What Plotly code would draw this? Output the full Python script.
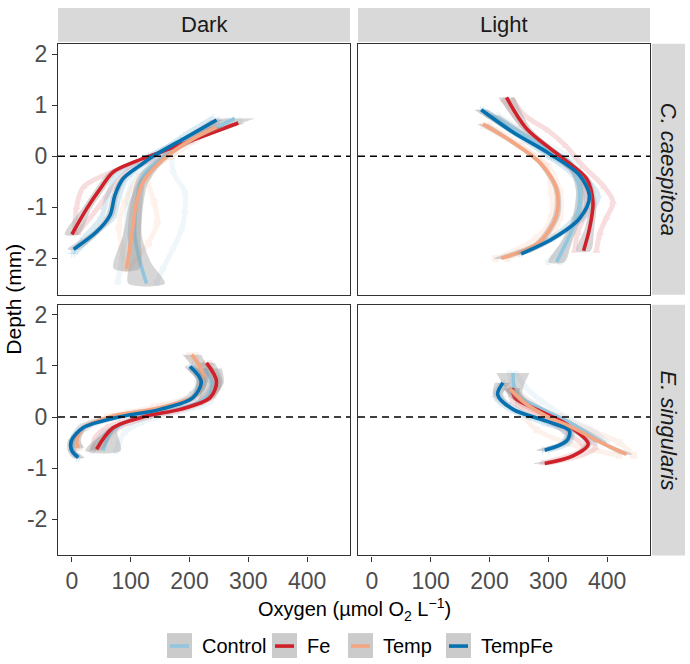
import plotly.graph_objects as go

# ---------------- data ----------------
treatments = ["Control", "Fe", "Temp", "TempFe"]
light_levels = ["Dark", "Light"]
species = ["C. caespitosa", "E. singularis"]
x_ticks = [0, 100, 200, 300, 400]
y_ticks = [-2, -1, 0, 1, 2]
y_tick_text = ["-2", "-1", "0", "1", "2"]

# Smoothed profiles (depth in mm, oxygen in umol/L, CI half-width)
dark_cc_depth = {
    "Control": [0.74, 0.40, 0.08, -0.38, -0.90, -1.55, -2.07, -2.49],
    "Fe": [0.65, 0.27, 0.05, -0.12, -0.31, -0.64, -1.03, -1.53],
    "Temp": [0.57, 0.34, 0.05, -0.18, -0.51, -0.90, -1.54, -2.20],
    "TempFe": [0.71, 0.34, 0.00, -0.18, -0.44, -0.77, -1.15, -1.48, -1.82],
}
dark_cc_oxygen = {
    "Control": [277, 218, 167, 121, 110, 107, 116, 127],
    "Fe": [283, 195, 144, 104, 70, 48, 25, 0],
    "Temp": [246, 206, 167, 144, 121, 110, 102, 93],
    "TempFe": [246, 190, 138, 116, 87, 73, 65, 42, 3],
}
dark_cc_ci = {
    "Control": [34, 12, 8, 8, 10, 12, 18, 31],
    "Fe": [12, 6, 5, 6, 7, 8, 8, 12],
    "Temp": [14, 8, 6, 7, 9, 12, 15, 22],
    "TempFe": [10, 5, 5, 5, 6, 6, 7, 7, 10],
}

light_cc_depth = {
    "Control": [0.80, 0.27, -0.12, -0.64, -1.22, -1.68, -2.07],
    "Fe": [1.15, 0.54, 0.01, -0.44, -0.90, -1.42, -1.85],
    "Temp": [0.63, 0.27, -0.12, -0.64, -1.16, -1.68, -2.00],
    "TempFe": [0.91, 0.47, 0.05, -0.37, -0.80, -1.22, -1.61, -1.91],
}
light_cc_oxygen = {
    "Control": [203, 280, 336, 353, 348, 331, 314],
    "Fe": [229, 263, 319, 365, 376, 370, 360],
    "Temp": [189, 240, 285, 314, 314, 285, 220],
    "TempFe": [186, 240, 302, 353, 370, 353, 308, 254],
}
light_cc_ci = {
    "Control": [14, 7, 6, 6, 7, 9, 14],
    "Fe": [14, 8, 6, 6, 6, 8, 12],
    "Temp": [10, 6, 5, 5, 6, 7, 12],
    "TempFe": [12, 6, 5, 5, 5, 6, 7, 10],
}

dark_es_depth = {
    "Control": [0.95, 0.65, 0.35, 0.12, 0.00, -0.25, -0.66],
    "Fe": [1.06, 0.70, 0.38, 0.15, 0.02, -0.21, -0.63],
    "Temp": [1.22, 0.83, 0.44, 0.18, 0.02, -0.21, -0.47, -0.60],
    "TempFe": [0.99, 0.70, 0.38, 0.15, -0.01, -0.21, -0.47, -0.66, -0.79],
}
dark_es_oxygen = {
    "Control": [225, 238, 225, 170, 115, 70, 53],
    "Fe": [229, 246, 235, 184, 127, 70, 42],
    "Temp": [204, 223, 212, 150, 70, 19, 8, 11],
    "TempFe": [201, 220, 206, 150, 76, 19, -1, 0, 11],
}
dark_es_ci = {
    "Control": [30, 20, 10, 6, 6, 8, 30],
    "Fe": [14, 10, 7, 5, 5, 6, 10],
    "Temp": [16, 10, 7, 5, 5, 6, 7, 9],
    "TempFe": [10, 8, 6, 5, 5, 5, 6, 7, 10],
}

light_es_depth = {
    "Control": [0.86, 0.44, 0.18, -0.14, -0.50],
    "Fe": [0.57, 0.38, 0.12, -0.14, -0.53, -0.76, -0.91],
    "Temp": [0.55, 0.25, 0.00, -0.21, -0.50, -0.73],
    "TempFe": [0.67, 0.44, 0.15, -0.08, -0.27, -0.47, -0.65],
}
light_es_oxygen = {
    "Control": [240, 246, 285, 342, 390],
    "Fe": [239, 243, 285, 331, 368, 342, 294],
    "Temp": [235, 263, 300, 342, 390, 433],
    "TempFe": [223, 214, 240, 297, 336, 331, 294],
}
light_es_ci = {
    "Control": [28, 10, 6, 6, 10],
    "Fe": [14, 8, 6, 5, 6, 8, 18],
    "Temp": [12, 7, 5, 5, 6, 10],
    "TempFe": [14, 8, 6, 5, 6, 7, 14],
}

# Raw replicate profiles (faint points)
dark_cc_raw_depth = {
    "Control": [[0.7, 0.4, 0.1, -0.3, -0.7, -1.1, -1.42, -1.81, -2.2, -2.46],
                [0.7, 0.3, 0.0, -0.4, -0.9, -1.5, -2.0, -2.46]],
    "Fe": [[0.6, 0.3, 0.0, -0.3, -0.6, -1.0, -1.5],
           [0.65, 0.3, 0.0, -0.3, -0.6, -1.0, -1.5]],
    "Temp": [[0.55, 0.3, 0.0, -0.4, -0.9, -1.3, -1.7, -2.2],
             [0.55, 0.3, 0.0, -0.4, -0.9, -1.4, -1.8, -2.2]],
    "TempFe": [[0.75, 0.4, 0.0, -0.4, -0.8, -1.2, -1.5, -1.9],
               [0.7, 0.3, 0.0, -0.4, -0.8, -1.2, -1.6, -1.9]],
}
dark_cc_raw_oxygen = {
    "Control": [[265, 220, 175, 172, 192, 192, 187, 172, 155, 144],
                [285, 205, 150, 105, 95, 92, 85, 78]],
    "Fe": [[250, 200, 135, 70, 20, 8, 5],
           [240, 200, 150, 95, 70, 45, 10]],
    "Temp": [[240, 200, 160, 130, 140, 145, 130, 95],
             [250, 210, 170, 115, 90, 80, 85, 90]],
    "TempFe": [[240, 190, 140, 95, 80, 70, 40, 5],
               [250, 185, 130, 75, 60, 50, 20, 0]],
}

light_cc_raw_depth = {
    "Control": [[0.8, 0.3, -0.1, -0.6, -1.2, -1.7, -2.07],
                [0.8, 0.3, -0.1, -0.6, -1.2, -1.7, -2.07]],
    "Fe": [[1.1, 0.8, 0.5, 0.2, -0.2, -0.6, -0.9, -1.2, -1.5, -1.85],
           [1.1, 0.6, 0.0, -0.5, -1.0, -1.5, -1.85]],
    "Temp": [[0.6, 0.2, -0.2, -0.7, -1.2, -1.6, -2.0],
             [0.6, 0.2, -0.2, -0.7, -1.2, -1.6, -2.0]],
    "TempFe": [[0.9, 0.5, 0.0, -0.4, -0.8, -1.2, -1.6, -1.9],
               [0.9, 0.5, 0.0, -0.4, -0.8, -1.2, -1.6, -1.9]],
}
light_cc_raw_oxygen = {
    "Control": [[205, 275, 330, 350, 345, 325, 300],
                [215, 285, 345, 360, 350, 335, 320]],
    "Fe": [[240, 260, 300, 330, 360, 395, 410, 399, 388, 382],
           [225, 255, 315, 355, 365, 350, 345]],
    "Temp": [[190, 250, 300, 320, 320, 300, 230],
             [200, 255, 295, 305, 305, 280, 210]],
    "TempFe": [[190, 245, 305, 360, 385, 360, 310, 255],
               [185, 235, 300, 345, 360, 345, 305, 250]],
}

dark_es_raw_depth = {
    "Control": [[0.9, 0.6, 0.3, 0.1, -0.1, -0.3, -0.5, -0.66],
                [0.9, 0.6, 0.3, 0.1, -0.1, -0.3, -0.5, -0.66]],
    "Fe": [[1.05, 0.7, 0.4, 0.15, 0.0, -0.2, -0.4, -0.63],
           [1.05, 0.7, 0.4, 0.15, 0.0, -0.2, -0.4, -0.63]],
    "Temp": [[1.2, 0.8, 0.45, 0.2, 0.0, -0.2, -0.45, -0.6],
             [1.2, 0.8, 0.45, 0.2, 0.0, -0.2, -0.45, -0.6]],
    "TempFe": [[1.0, 0.7, 0.4, 0.15, 0.0, -0.2, -0.45, -0.65, -0.8],
               [1.0, 0.7, 0.4, 0.15, 0.0, -0.2, -0.45, -0.65, -0.8]],
}
dark_es_raw_oxygen = {
    "Control": [[215, 240, 235, 180, 120, 90, 80, 75],
                [230, 245, 220, 160, 100, 55, 40, 35]],
    "Fe": [[225, 250, 240, 190, 130, 80, 60, 45],
           [235, 240, 225, 175, 115, 60, 40, 35]],
    "Temp": [[200, 225, 215, 155, 70, 25, 10, 12],
             [210, 220, 205, 140, 60, 15, 5, 8]],
    "TempFe": [[200, 225, 210, 155, 80, 25, 5, 2, 8],
               [205, 215, 200, 145, 70, 15, 0, 0, 12]],
}

light_es_raw_depth = {
    "Control": [[0.85, 0.6, 0.3, 0.0, -0.3, -0.5],
                [0.85, 0.6, 0.3, 0.0, -0.3, -0.5]],
    "Fe": [[0.55, 0.3, 0.0, -0.3, -0.6, -0.9],
           [0.55, 0.3, 0.0, -0.3, -0.6, -0.9]],
    "Temp": [[0.55, 0.25, 0.0, -0.25, -0.5, -0.75],
             [0.55, 0.25, 0.0, -0.25, -0.5, -0.75]],
    "TempFe": [[0.65, 0.4, 0.15, -0.1, -0.3, -0.5, -0.65],
               [0.65, 0.4, 0.15, -0.1, -0.3, -0.5, -0.65]],
}
light_es_raw_oxygen = {
    "Control": [[245, 260, 290, 330, 380, 400],
                [235, 240, 270, 310, 350, 380]],
    "Fe": [[240, 250, 300, 350, 380, 300],
           [235, 240, 290, 330, 360, 290]],
    "Temp": [[230, 250, 260, 280, 330, 420],
             [240, 275, 320, 370, 420, 445]],
    "TempFe": [[220, 210, 235, 290, 330, 325, 290],
               [225, 220, 245, 300, 340, 335, 300]],
}

# ---------------- styling ----------------
colors = {"Control": "#92C5DE", "Fe": "#D0202A", "Temp": "#F4A582", "TempFe": "#0571B0"}
symbols = {"Control": "circle", "Fe": "triangle-up", "Temp": "square", "TempFe": "cross-thin"}
FONT = "Liberation Sans, Arial, sans-serif"
W, H = 690, 664

panels = [
    ("", "Dark", "C. caespitosa", dark_cc_depth, dark_cc_oxygen, dark_cc_ci,
     dark_cc_raw_depth, dark_cc_raw_oxygen, (58, 350), (41, 293)),
    ("2", "Light", "C. caespitosa", light_cc_depth, light_cc_oxygen, light_cc_ci,
     light_cc_raw_depth, light_cc_raw_oxygen, (358, 650), (41, 293)),
    ("3", "Dark", "E. singularis", dark_es_depth, dark_es_oxygen, dark_es_ci,
     dark_es_raw_depth, dark_es_raw_oxygen, (58, 350), (303, 555)),
    ("4", "Light", "E. singularis", light_es_depth, light_es_oxygen, light_es_ci,
     light_es_raw_depth, light_es_raw_oxygen, (358, 650), (303, 555)),
]

fig = go.Figure()
layout = dict(
    width=W, height=H, margin=dict(l=0, r=0, t=0, b=0),
    paper_bgcolor="white", plot_bgcolor="white", showlegend=False,
    font=dict(family=FONT),
)
shapes = []
annotations = []

for i, (suf, light, sp, dep, oxy, ci, rdep, roxy, xd, yd) in enumerate(panels):
    xa, ya = "x" + suf, "y" + suf
    # raw points
    for t in treatments:
        for d_rep, o_rep in zip(rdep[t], roxy[t]):
            fig.add_trace(go.Scatter(
                x=o_rep, y=d_rep, xaxis=xa, yaxis=ya, mode="lines+markers",
                line=dict(color=colors[t], width=5, shape="spline"),
                marker=dict(symbol=symbols[t], size=6, color=colors[t],
                            line=dict(color=colors[t], width=1)),
                opacity=0.15, hoverinfo="skip"))
    # smooth: ribbon then line, per group
    for t in treatments:
        lo = [o - c for o, c in zip(oxy[t], ci[t])]
        hi = [o + c for o, c in zip(oxy[t], ci[t])]
        fig.add_trace(go.Scatter(
            x=lo + hi[::-1], y=dep[t] + dep[t][::-1], xaxis=xa, yaxis=ya,
            mode="lines", fill="toself", fillcolor="rgba(153,153,153,0.4)",
            line=dict(width=0, shape="spline", smoothing=0.8), hoverinfo="skip"))
        fig.add_trace(go.Scatter(
            x=oxy[t], y=dep[t], xaxis=xa, yaxis=ya, mode="lines", name=t,
            line=dict(color=colors[t], width=3.6, shape="spline", smoothing=0.9)))

    xkey = "xaxis" + suf
    ykey = "yaxis" + suf
    bottom = yd[0] == 303
    left = xd[0] == 58
    layout[xkey] = dict(
        domain=[xd[0] / W, xd[1] / W], range=[-23.6, 473], anchor=ya,
        showgrid=False, zeroline=False, showline=True, mirror=True,
        linecolor="#333333", linewidth=1.1,
        tickvals=x_ticks, ticks="outside" if bottom else "", ticklen=5,
        tickcolor="#333333", showticklabels=bottom,
        tickfont=dict(size=23, color="#4D4D4D", family=FONT),
    )
    layout[ykey] = dict(
        domain=[1 - yd[1] / H, 1 - yd[0] / H], range=[-2.71, 2.2], anchor=xa,
        showgrid=False, zeroline=False, showline=True, mirror=True,
        linecolor="#333333", linewidth=1.1,
        tickvals=y_ticks, ticktext=y_tick_text, ticks="outside" if left else "",
        ticklen=5, tickcolor="#333333", showticklabels=left,
        tickfont=dict(size=23, color="#4D4D4D", family=FONT),
    )
    shapes.append(dict(type="line", xref=xa + " domain", yref=ya, x0=0, x1=1,
                       y0=0, y1=0, layer="above",
                       line=dict(color="black", width=1.6, dash="7px,5px")))

# top strips
for lbl, xd in zip(light_levels, [(58, 350), (358, 650)]):
    shapes.append(dict(type="rect", xref="paper", yref="paper",
                       x0=xd[0] / W, x1=xd[1] / W, y0=1 - 39 / H, y1=1 - 5 / H,
                       fillcolor="#D9D9D9", line=dict(width=0), layer="below"))
    annotations.append(dict(text=lbl, xref="paper", yref="paper",
                            x=(xd[0] + xd[1]) / 2 / W, y=1 - 22 / H, showarrow=False,
                            font=dict(size=22, color="#1A1A1A", family=FONT),
                            xanchor="center", yanchor="middle"))
# right strips
for lbl, yd in zip(species, [(41, 293), (303, 555)]):
    shapes.append(dict(type="rect", xref="paper", yref="paper",
                       x0=652 / W, x1=685 / W, y0=1 - yd[1] / H, y1=1 - yd[0] / H,
                       fillcolor="#D9D9D9", line=dict(width=0), layer="below"))
    annotations.append(dict(text="<i>" + lbl + "</i>", xref="paper", yref="paper",
                            x=668.5 / W, y=1 - (yd[0] + yd[1]) / 2 / H, showarrow=False,
                            textangle=90,
                            font=dict(size=22, color="#1A1A1A", family=FONT),
                            xanchor="center", yanchor="middle"))

# axis titles
annotations.append(dict(text="Oxygen (µmol O<sub>2</sub> L<sup>−1</sup>)", xref="paper",
                        yref="paper", x=354 / W, y=1 - 609 / H, showarrow=False,
                        font=dict(size=20, color="black", family=FONT),
                        xanchor="center", yanchor="middle"))
annotations.append(dict(text="Depth (mm)", xref="paper", yref="paper",
                        x=14 / W, y=1 - 298 / H, showarrow=False, textangle=-90,
                        font=dict(size=21, color="black", family=FONT),
                        xanchor="center", yanchor="middle"))

# legend (ggplot style keys with grey se fill)
legend_key_x = {"Control": 167, "Fe": 272, "Temp": 348, "TempFe": 446}
for t in treatments:
    kx = legend_key_x[t]
    shapes.append(dict(type="rect", xref="paper", yref="paper",
                       x0=kx / W, x1=(kx + 25) / W, y0=1 - 658 / H, y1=1 - 633 / H,
                       fillcolor="#CBCBCB", line=dict(width=0)))
    shapes.append(dict(type="line", xref="paper", yref="paper",
                       x0=(kx + 3) / W, x1=(kx + 22) / W, y0=1 - 646 / H, y1=1 - 646 / H,
                       line=dict(color=colors[t], width=3.6)))
    annotations.append(dict(text=t, xref="paper", yref="paper",
                            x=(kx + 33) / W, y=1 - 646 / H, showarrow=False,
                            font=dict(size=20, color="black", family=FONT),
                            xanchor="left", yanchor="middle"))

layout["shapes"] = shapes
layout["annotations"] = annotations
fig.update_layout(**layout)
fig.write_html("out.html")
